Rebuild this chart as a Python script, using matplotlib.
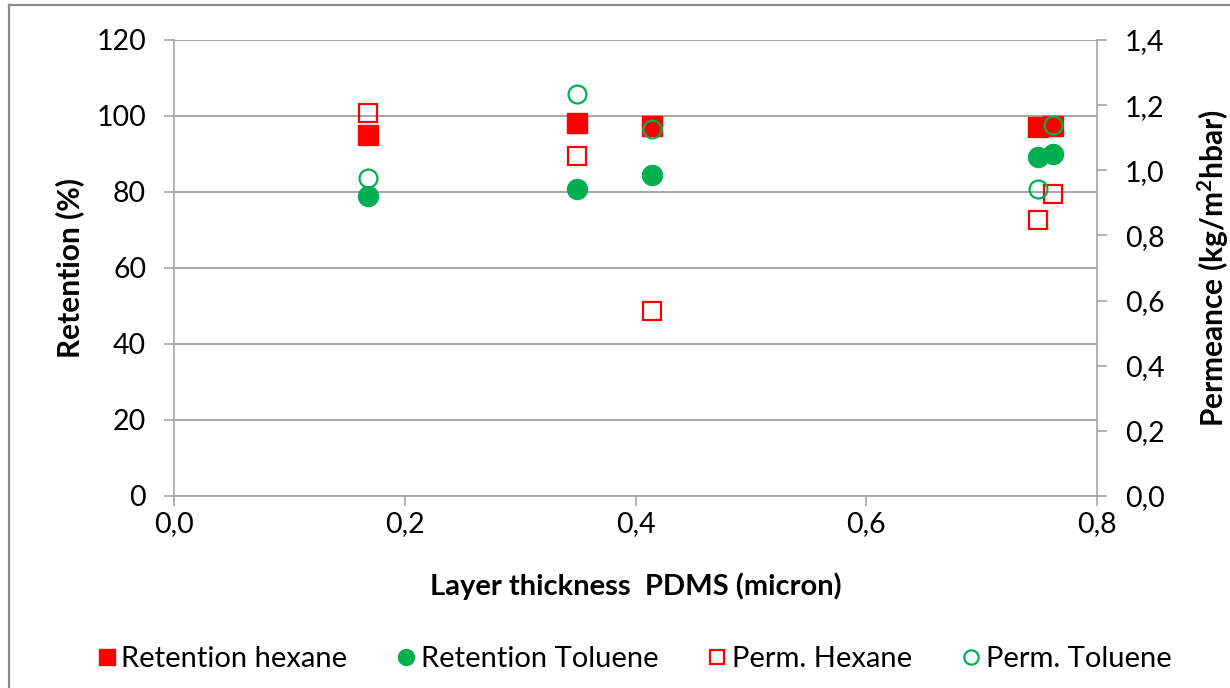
import matplotlib
matplotlib.use("Agg")
import matplotlib.pyplot as plt
from matplotlib.ticker import FuncFormatter, MultipleLocator
from matplotlib.lines import Line2D

plt.rcParams["font.family"] = ["Lato", "DejaVu Sans"]
plt.rcParams["mathtext.fontset"] = "custom"
plt.rcParams["mathtext.bf"] = "Lato:bold"

# Data
thickness = [0.168, 0.349, 0.414, 0.749, 0.762]
ret_hexane = [95.0, 98.2, 97.3, 97.0, 97.4]
ret_toluene = [78.9, 80.8, 84.4, 89.3, 89.9]
perm_hexane = [1.175, 1.044, 0.569, 0.846, 0.927]
perm_toluene = [0.975, 1.235, 1.126, 0.942, 1.138]

RED = "#FF0000"
GREEN = "#00B050"
GRID = "#A6A6A6"
MS = 14.4

fig = plt.figure(figsize=(12.3, 6.88), dpi=100)
ax = fig.add_axes([174 / 1230, 1 - 496 / 688, (1097 - 174) / 1230, (496 - 40) / 688])
ax2 = ax.twinx()

ax.plot(thickness, ret_hexane, ls="none", marker="s", ms=MS, color=RED,
        mec=RED, label="Retention hexane", zorder=3)
ax.plot(thickness, ret_toluene, ls="none", marker="o", ms=MS, color=GREEN,
        mec=GREEN, label="Retention Toluene", zorder=3)
ax2.plot(thickness, perm_hexane, ls="none", marker="s", ms=MS - 1.5, mfc="none",
         mec=RED, mew=1.6, label="Perm. Hexane", zorder=3)
ax2.plot(thickness, perm_toluene, ls="none", marker="o", ms=MS - 1.5, mfc="none",
         mec=GREEN, mew=1.6, label="Perm. Toluene", zorder=3)

comma = FuncFormatter(lambda v, p: f"{v:.1f}".replace(".", ","))

ax.set_xlim(0, 0.8)
ax.set_ylim(0, 120)
ax2.set_ylim(0, 1.4)
ax.xaxis.set_major_locator(MultipleLocator(0.2))
ax.yaxis.set_major_locator(MultipleLocator(20))
ax2.yaxis.set_major_locator(MultipleLocator(0.2))
ax.xaxis.set_major_formatter(comma)
ax2.yaxis.set_major_formatter(comma)

ax.yaxis.grid(True, color=GRID, lw=1.4)
ax.set_axisbelow(True)

for a in (ax, ax2):
    a.spines["top"].set_visible(False)
    for s in ("left", "right", "bottom"):
        a.spines[s].set_color(GRID)
        a.spines[s].set_linewidth(1.2)
ax.spines["right"].set_visible(False)
ax2.spines["left"].set_visible(False)
ax2.spines["bottom"].set_visible(False)

ax.tick_params(axis="y", direction="out", length=7, width=1.2, color=GRID,
               labelsize=20.5, pad=13)
ax.tick_params(axis="x", direction="out", length=7, width=1.2, color=GRID,
               labelsize=20.5, pad=4)
ax2.tick_params(axis="y", direction="out", length=7, width=1.2, color=GRID,
                labelsize=20.5, pad=13)

ax.set_ylabel("Retention (%)", fontsize=21.5, fontweight="bold")
ax.yaxis.set_label_coords((84 - 174) / 923, 0.5)
ax.set_xlabel("Layer thickness  PDMS (micron)", fontsize=21, fontweight="bold")
ax.xaxis.set_label_coords(0.5, (496 - 572) / 456)
ax2.set_ylabel(r"Permeance (kg/m$\mathbf{^2}$hbar)", fontsize=21.5, fontweight="bold")
ax2.yaxis.set_label_coords((1195 - 174) / 923, 0.5)

handles = ax.get_lines() + ax2.get_lines()
fig.legend(handles, [h.get_label() for h in handles], loc="center",
           bbox_to_anchor=(0.516, 1 - 659 / 688), ncol=4, frameon=False,
           fontsize=21, markerscale=0.8, handlelength=0.6, handletextpad=0.2,
           columnspacing=1.72)

# chart area border (left and top edges visible)
fig.add_artist(Line2D([9 / 1230, 9 / 1230], [0, 1 - 5 / 688], color="#898989", lw=1.6))
fig.add_artist(Line2D([9 / 1230, 1], [1 - 5 / 688, 1 - 5 / 688], color="#898989", lw=1.6))

fig.savefig("out.png", dpi=100)
